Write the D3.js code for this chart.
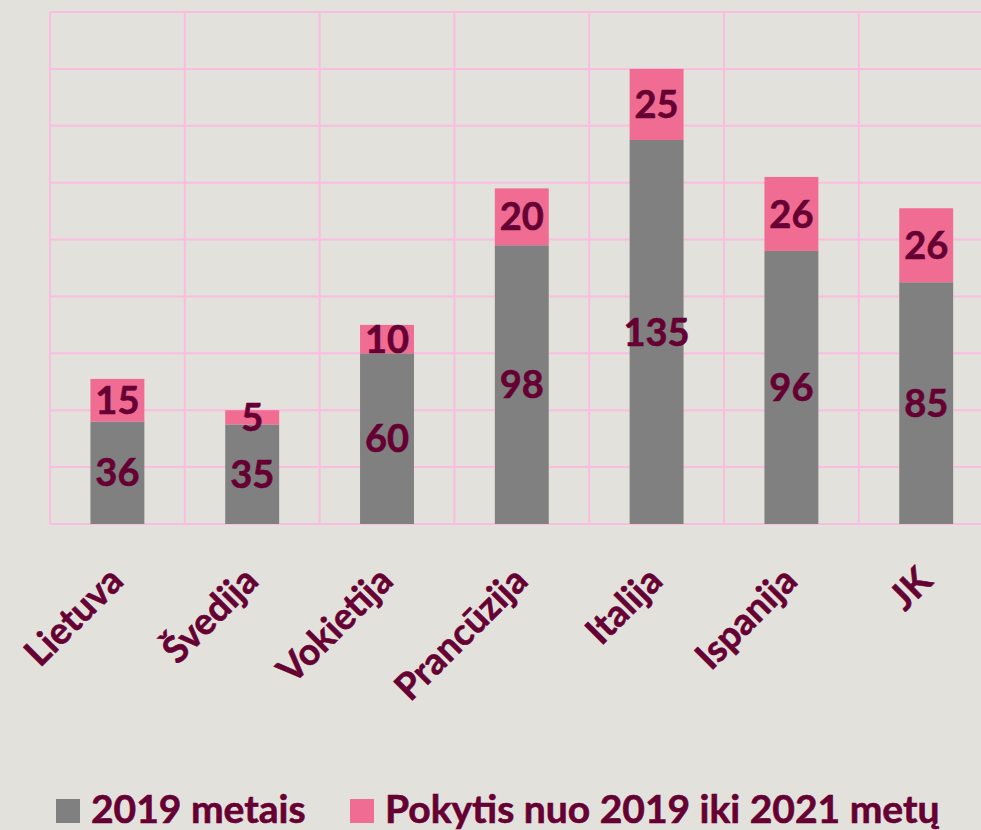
<!DOCTYPE html>
<html>
<head>
<meta charset="utf-8">
<script src="https://cdn.jsdelivr.net/npm/d3@7"></script>
<style>
  body { margin: 0; background: #e2e1dc; }
  text { font-family: Lato, "Open Sans", sans-serif; font-weight: bold; fill: #660033;
         stroke: #660033; stroke-width: 0.6px; }
</style>
</head>
<body>
<div id="chart"></div>
<script>
"use strict";

// Data
var categories = ["Lietuva", "Švedija", "Vokietija", "Prancūzija", "Italija", "Ispanija", "JK"];
var values2019 = [36, 35, 60, 98, 135, 96, 85];
var change = [15, 5, 10, 20, 25, 26, 26];
var seriesNames = ["2019 metais", "Pokytis nuo 2019 iki 2021 metų"];
var yTicks = [0, 20, 40, 60, 80, 100, 120, 140, 160, 180];

var config = {
    canvas: {width: 981, height: 830},
    plot: {left: 50, right: 993.6, top: 12, bottom: 524},
    colors: ["#808080", "#f06c93"],
    grid: "#fabde0"
};

var svg = d3.select("#chart")
    .append("svg")
    .attr("width", config.canvas.width)
    .attr("height", config.canvas.height);

var x = d3.scaleBand()
    .domain(categories)
    .range([config.plot.left, config.plot.right])
    .paddingInner(0.6)
    .paddingOuter(0.3);

var y = d3.scaleLinear()
    .domain([0, 180])
    .range([config.plot.bottom, config.plot.top]);

// gridlines
var grid = svg.append("g").attr("stroke", config.grid).attr("stroke-width", 2);
grid.selectAll("line.h")
    .data(yTicks)
    .enter().append("line")
    .attr("class", "h")
    .attr("x1", config.plot.left)
    .attr("x2", config.plot.right)
    .attr("y1", function(d) { return y(d); })
    .attr("y2", function(d) { return y(d); });

var step = x.step();
grid.selectAll("line.v")
    .data(d3.range(categories.length + 1))
    .enter().append("line")
    .attr("class", "v")
    .attr("x1", function(i) { return config.plot.left + i * step; })
    .attr("x2", function(i) { return config.plot.left + i * step; })
    .attr("y1", config.plot.top)
    .attr("y2", config.plot.bottom);

// stacked bars
var rows = categories.map(function(c, i) {
    return {cat: c, base: values2019[i], change: change[i]};
});
var stacked = d3.stack().keys(["base", "change"])(rows);

var layers = svg.selectAll(".layer")
    .data(stacked)
    .enter().append("g")
    .attr("class", "layer")
    .attr("fill", function(d, i) { return config.colors[i]; });

layers.selectAll("rect")
    .data(function(d) { return d; })
    .enter().append("rect")
    .attr("x", function(d) { return x(d.data.cat); })
    .attr("width", x.bandwidth())
    .attr("y", function(d) { return y(d[1]); })
    .attr("height", function(d) { return y(d[0]) - y(d[1]); });

layers.selectAll("text")
    .data(function(d) { return d; })
    .enter().append("text")
    .attr("x", function(d) { return x(d.data.cat) + x.bandwidth() / 2; })
    .attr("y", function(d) { return (y(d[0]) + y(d[1])) / 2; })
    .attr("dy", "0.36em")
    .attr("text-anchor", "middle")
    .style("font-size", "38px")
    .text(function(d) { return d[1] - d[0]; });

// category labels
svg.append("g").selectAll("text")
    .data(categories)
    .enter().append("text")
    .attr("transform", function(d) {
        return "translate(" + (x(d) + x.bandwidth() / 2 + 8) + ",583) rotate(-45)";
    })
    .attr("text-anchor", "end")
    .style("font-size", "37px")
    .text(function(d) { return d; });

// legend
var legendX = [56, 350];
var legend = svg.append("g").selectAll("g")
    .data(seriesNames)
    .enter().append("g")
    .attr("transform", function(d, i) { return "translate(" + legendX[i] + ",823)"; });
legend.append("rect")
    .attr("y", -24)
    .attr("width", 24)
    .attr("height", 24)
    .attr("fill", function(d, i) { return config.colors[i]; });
legend.append("text")
    .attr("x", 35)
    .style("font-size", "39px")
    .text(function(d) { return d; });
</script>
</body>
</html>
